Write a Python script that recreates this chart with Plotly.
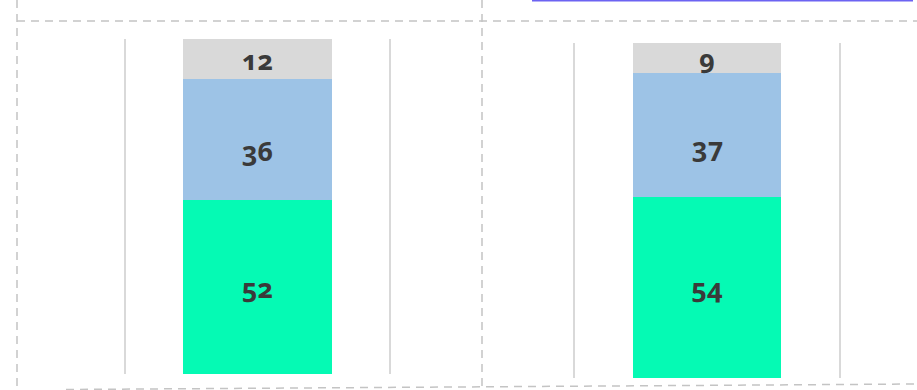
import plotly.graph_objects as go

# Two stacked 100% columns, one per panel
panels = ["Panel 1", "Panel 2"]
bottom_share = [52, 54]   # green segment
middle_share = [36, 37]   # blue segment
top_share = [12, 9]       # grey segment

series = [
    ("Bottom", bottom_share, "#05FAB4"),
    ("Middle", middle_share, "#9DC3E6"),
    ("Top", top_share, "#D9D9D9"),
]

W, H = 917, 390
label_font = dict(family="Noto Sans", size=27, color="#3A3A3A", weight="bold")


def px_x(v):
    return v / W


def px_y(v):
    return 1 - v / H


# plot boxes (pixels): left, right, top, bottom
boxes = [(126, 389, 39, 374), (575, 839, 43, 378)]

fig = go.Figure()
annotations = []
for i, cat in enumerate(panels):
    ax = "" if i == 0 else str(i + 1)
    base = 0
    for name, vals, color in series:
        inside_text = name != "Middle"
        fig.add_trace(go.Bar(
            x=[cat], y=[vals[i]], name=name,
            marker=dict(color=color, line=dict(width=0)),
            width=0.563,
            text=[str(vals[i])] if inside_text else None,
            textposition="inside" if inside_text else "none",
            insidetextanchor="middle", textangle=0,
            constraintext="none",
            textfont=label_font,
            xaxis="x" + ax, yaxis="y" + ax,
            showlegend=False, hoverinfo="skip",
        ))
        if not inside_text:
            # middle segment label sits a little below the segment centre
            annotations.append(dict(
                x=cat, y=base + vals[i] / 2, xref="x" + ax, yref="y" + ax,
                text=str(vals[i]), showarrow=False, yshift=-11,
                font=label_font,
            ))
        base += vals[i]

layout_axes = {}
for i, (l, r, t, b) in enumerate(boxes):
    ax = "" if i == 0 else str(i + 1)
    layout_axes["xaxis" + ax] = dict(
        domain=[px_x(l), px_x(r)], range=[-0.5, 0.5],
        showticklabels=False, showgrid=False, zeroline=False, showline=False,
        anchor="y" + ax, fixedrange=True,
    )
    layout_axes["yaxis" + ax] = dict(
        domain=[px_y(b), px_y(t)], range=[0, 100],
        showticklabels=False, showgrid=False, zeroline=False,
        showline=True, mirror=True, linecolor="#D9D9D9", linewidth=2,
        anchor="x" + ax, fixedrange=True,
    )

dash_style = dict(color="#C4C4C4", width=1.5, dash="8px,6px")
shapes = [
    # panel borders
    dict(type="line", xref="paper", yref="paper",
         x0=px_x(17), x1=px_x(917), y0=px_y(21), y1=px_y(21), line=dash_style),
    dict(type="line", xref="paper", yref="paper",
         x0=px_x(17), x1=px_x(17), y0=px_y(0), y1=px_y(390), line=dash_style),
    dict(type="line", xref="paper", yref="paper",
         x0=px_x(482), x1=px_x(482), y0=px_y(0), y1=px_y(387), line=dash_style),
    dict(type="line", xref="paper", yref="paper",
         x0=px_x(66), x1=px_x(917), y0=px_y(389.5), y1=px_y(384), line=dash_style),
    # header underline
    dict(type="line", xref="paper", yref="paper",
         x0=px_x(532), x1=px_x(913), y0=px_y(0.5), y1=px_y(0.5),
         line=dict(color="#6C63F2", width=2)),
]

fig.update_layout(
    width=W, height=H,
    margin=dict(l=0, r=0, t=0, b=0),
    paper_bgcolor="white", plot_bgcolor="white",
    barmode="stack", bargap=0,
    shapes=shapes, annotations=annotations,
    **layout_axes,
)

oldstyle = (
    "var s=document.createElement('style');"
    "s.textContent='.bartext, .bartext text, .annotation-text"
    "{font-variant-numeric:oldstyle-nums !important;"
    "font-feature-settings:\"onum\" 1 !important;}';"
    "document.head.appendChild(s);"
)

fig.write_html("out.html", config={"displayModeBar": False}, post_script=oldstyle)
